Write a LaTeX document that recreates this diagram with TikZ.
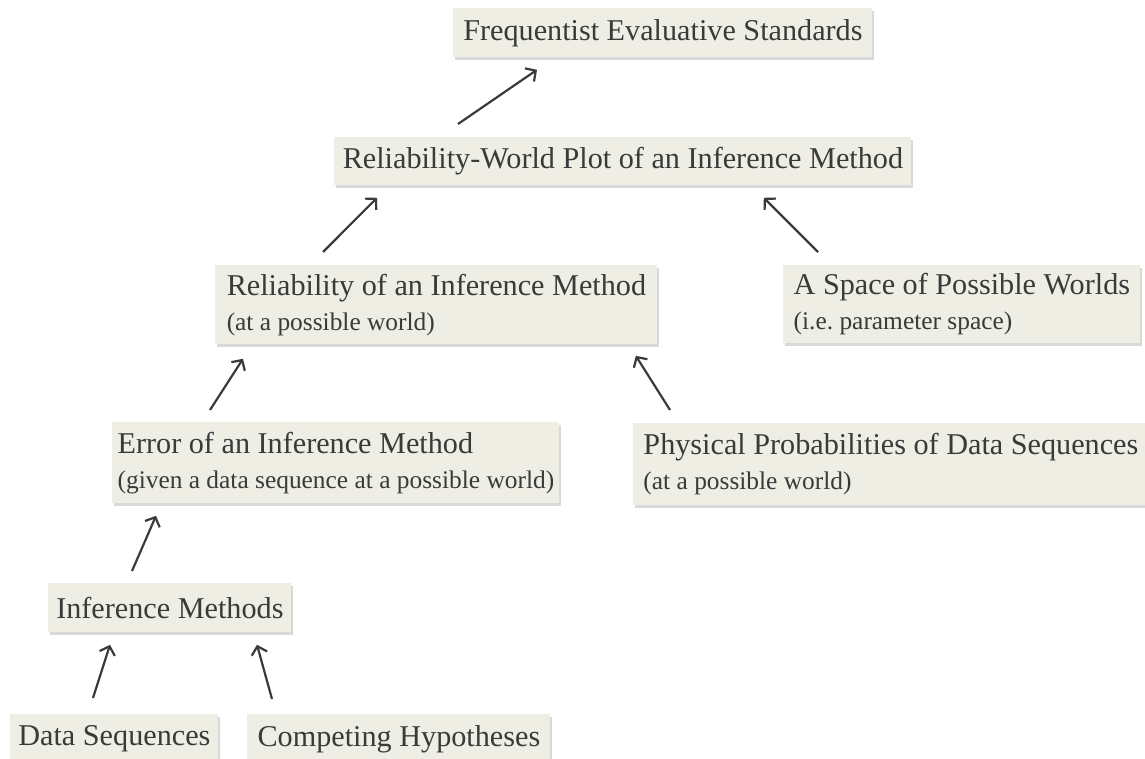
\documentclass[tikz,border=0pt]{standalone}
\usepackage{fontspec}
\setmainfont{Liberation Serif}
\usetikzlibrary{
arrows.meta,
calc,
positioning,
shadows
}
\tikzset{>={Straight Barb[length=3.8pt,width=8pt]}}
\definecolor{boxfill}{RGB}{239,238,228}
\definecolor{ink}{RGB}{58,58,58}
\newcommand{\aside}[1]{{\fontsize{12.7}{14}\selectfont #1}}

\begin{document}
\begin{tikzpicture}[x=0.5pt, y=-0.5pt, font=\fontsize{15.1}{17.5}\selectfont, text=ink,
		item/.style={anchor=north west,fill=boxfill,inner sep=0pt,align=left,
			drop shadow={opacity=0.3,shadow xshift=0.6pt,shadow yshift=-1.4pt}},
		link/.style={->,draw=ink,line width=1.1pt}]
		\clip (0,0) rectangle (1145,759);

		% boxes
		\node[item,minimum width=209.5pt,minimum height=24.5pt] (freq)  at (453,8)   {Frequentist Evaluative Standards};
		\node[item,minimum width=288.5pt,minimum height=24pt]   (plot)  at (334,137) {Reliability-World Plot of an Inference Method};
		\node[item,minimum width=221pt,minimum height=39.5pt]   (rel)   at (215,265) {Reliability of an Inference Method\\ \aside{(at a possible world)}};
		\node[item,minimum width=178.5pt,minimum height=39pt]   (space) at (783,265) {A Space of Possible Worlds\\ \aside{(i.e.\ parameter space)}};
		\node[item,minimum width=223.5pt,minimum height=40.5pt] (err)   at (112,422) {Error of an Inference Method\\ \aside{(given a data sequence at a possible world)}};
		\node[item,minimum width=257.5pt,minimum height=41pt]   (phys)  at (633,423) {Physical Probabilities of Data Sequences\\ \aside{(at a possible world)}};
		\node[item,minimum width=121.5pt,minimum height=24.5pt] (meth)  at (48,583)  {Inference Methods};
		\node[item,minimum width=104pt,minimum height=24.5pt]   (data)  at (10,714)  {Data Sequences};
		\node[item,minimum width=151.5pt,minimum height=24.5pt] (hyp)   at (247,714) {Competing Hypotheses};

		% arrows
		\draw[link] ([shift={(124,-13)}]plot.north west) -- ([shift={(84,12)}]freq.south west);
		\draw[link] ([shift={(108,-13)}]rel.north west) -- ([shift={(43,12)}]plot.south west);
		\draw[link] ([shift={(35,-13)}]space.north west) -- ([shift={(-148,12)}]plot.south east);
		\draw[link] ([shift={(98,-12)}]err.north west) -- ([shift={(28,14)}]rel.south west);
		\draw[link] ([shift={(37,-13)}]phys.north west) -- ([shift={(-22,11)}]rel.south east);
		\draw[link] ([shift={(84,-12)}]meth.north west) -- ([shift={(44,12)}]err.south west);
		\draw[link] ([shift={(83,-16)}]data.north west) -- ([shift={(62,12)}]meth.south west);
		\draw[link] ([shift={(25,-15)}]hyp.north west) -- ([shift={(209,12)}]meth.south west);
\end{tikzpicture}
\end{document}
